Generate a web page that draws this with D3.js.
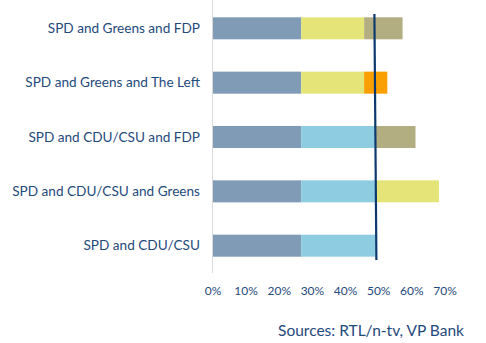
<!DOCTYPE html>
<html>
<head>
<meta charset="utf-8">
<script src="https://cdn.jsdelivr.net/npm/d3@7"></script>
<style>
  body { margin: 0; background: #fff; }
  svg { display: block; font-family: Lato, "Open Sans", sans-serif; }
</style>
</head>
<body>
<svg id="root" width="486" height="343"></svg>
<script>
"use strict";

// coalitions, top to bottom
const coalitions = [
  "SPD and Greens and FDP",
  "SPD and Greens and The Left",
  "SPD and CDU/CSU and FDP",
  "SPD and CDU/CSU and Greens",
  "SPD and CDU/CSU",
];

// poll shares (%) of each partner, in stacking order per coalition
const spd = [26.6, 26.6, 26.6, 26.6, 26.6];
const second = [19.0, 19.0, 22.5, 22.5, 22.5];
const third = [11.6, 7.0, 12.0, 19.1, 0];
const secondParty = ["Greens", "Greens", "CDU/CSU", "CDU/CSU", "CDU/CSU"];
const thirdParty = ["FDP", "The Left", "FDP", "Greens", null];

// majority line (drawn slightly slanted as in the source)
const majorityTop = 48.7;
const majorityBottom = 49.3;

const xTicks = [0, 10, 20, 30, 40, 50, 60, 70];

const partyColor = {
  SPD: "#7f9bb6",
  Greens: "#e5e479",
  FDP: "#b2ae82",
  "The Left": "#f99f00",
  "CDU/CSU": "#8ecde1",
};
const textColor = "#1f4a7c";

const svg = d3.select("#root");

const x = d3.scaleLinear().domain([0, 70]).range([213, 445]);
const y = d3
  .scaleBand()
  .domain(coalitions)
  .range([1, 273])
  .paddingInner(0.595)
  .paddingOuter(0.3);

// build stacked segments
const segments = [];
coalitions.forEach((c, i) => {
  let start = 0;
  const parts = [
    ["SPD", spd[i]],
    [secondParty[i], second[i]],
    [thirdParty[i], third[i]],
  ];
  parts.forEach(([party, v]) => {
    if (!party || !v) return;
    segments.push({ coalition: c, party, x0: start, x1: start + v });
    start += v;
  });
});

svg
  .append("g")
  .selectAll("rect")
  .data(segments)
  .join("rect")
  .attr("x", (d) => x(d.x0))
  .attr("y", (d) => y(d.coalition))
  .attr("width", (d) => x(d.x1) - x(d.x0))
  .attr("height", y.bandwidth())
  .attr("fill", (d) => partyColor[d.party]);

// vertical axis line
svg
  .append("line")
  .attr("x1", x(0) - 0.5)
  .attr("x2", x(0) - 0.5)
  .attr("y1", 0)
  .attr("y2", 273)
  .attr("stroke", "#d9d9d9")
  .attr("stroke-width", 1);

// category labels
svg
  .append("g")
  .selectAll("text")
  .data(coalitions)
  .join("text")
  .attr("x", 200)
  .attr("y", (d) => y(d) + y.bandwidth() / 2)
  .attr("dy", "0.35em")
  .attr("text-anchor", "end")
  .attr("fill", textColor)
  .style("font-size", "13.6px")
  .text((d) => d);

// x tick labels
svg
  .append("g")
  .selectAll("text")
  .data(xTicks)
  .join("text")
  .attr("x", (d) => x(d))
  .attr("y", 291)
  .attr("dy", "0.35em")
  .attr("text-anchor", "middle")
  .attr("fill", textColor)
  .style("font-size", "12px")
  .text((d) => d + "%");

// majority line
svg
  .append("line")
  .attr("x1", x(majorityTop))
  .attr("x2", x(majorityBottom))
  .attr("y1", 14)
  .attr("y2", 260)
  .attr("stroke", "#0c3a6e")
  .attr("stroke-width", 2.2);

// source
svg
  .append("text")
  .attr("x", 464)
  .attr("y", 331)
  .attr("dy", "0.35em")
  .attr("text-anchor", "end")
  .attr("fill", textColor)
  .style("font-size", "15.5px")
  .text("Sources: RTL/n-tv, VP Bank");
</script>
</body>
</html>
